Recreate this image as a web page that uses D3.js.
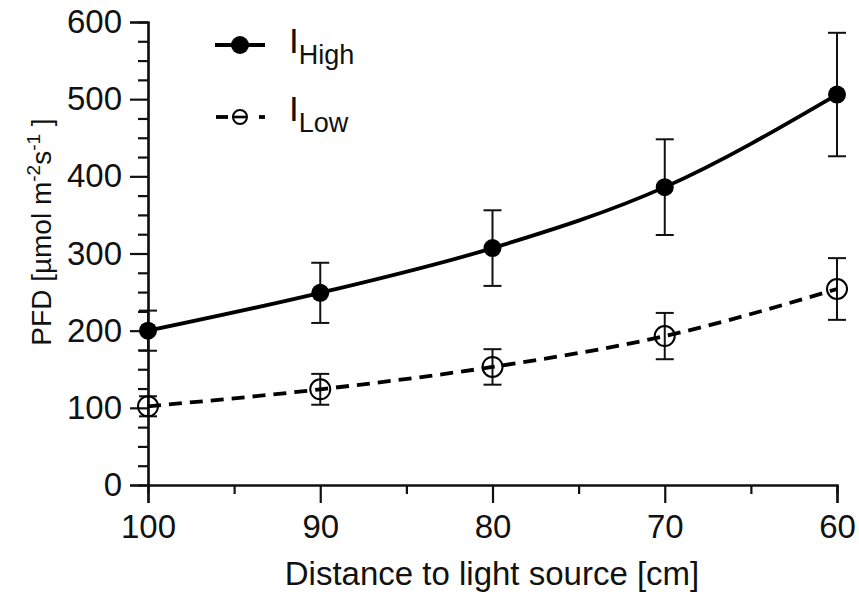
<!DOCTYPE html>
<html>
<head>
<meta charset="utf-8">
<script src="https://cdn.jsdelivr.net/npm/d3@7"></script>
<style>
  body { margin: 0; background: #fff; }
  text { font-family: "Liberation Sans", Arial, sans-serif; fill: #111; }
</style>
</head>
<body>
<svg id="chart" width="859" height="594"></svg>
<script>
// Distance to light source [cm]
const distances = [100, 90, 80, 70, 60];

// PFD means and error (one SD).
const highMean = [200, 249, 307, 386, 506];
const highErr = [26, 39, 49, 62, 80];
const lowMean = [102, 124, 153, 193, 254];
const lowErr = [13, 20, 23, 30, 40];

const xTicks = [100, 90, 80, 70, 60];
const yTicks = [0, 100, 200, 300, 400, 500, 600];

const svg = d3.select('#chart');

const x = d3.scaleLinear().domain([100, 60]).range([148, 837]);
const y = d3.scaleLinear().domain([0, 600]).range([485, 22]);

// Axes: major ticks are labelled, minor ticks are shorter and unlabelled.
const yAxis = d3.axisLeft(y)
  .tickValues(yTicks)
  .tickSize(18)
  .tickPadding(8)
  .tickFormat(d3.format('d'));
const yMinor = d3.axisLeft(y)
  .tickValues(d3.range(25, 600, 25).filter((v) => v % 100 !== 0))
  .tickSize(10)
  .tickFormat('');

const xAxis = d3.axisBottom(x)
  .tickValues(xTicks)
  .tickSize(18)
  .tickPadding(12)
  .tickFormat(d3.format('d'));
const xMinor = d3.axisBottom(x)
  .tickValues([95, 85, 75, 65])
  .tickSize(9)
  .tickFormat('');

function styleAxis(g) {
  g.select('.domain').attr('stroke', '#111').attr('stroke-width', 2.2);
  g.selectAll('.tick line').attr('stroke', '#111').attr('stroke-width', 2.2);
  g.selectAll('.tick text')
    .style('font-size', '33px')
    .attr('fill', '#111');
}

svg.append('g').attr('transform', 'translate(148,0)').call(yMinor).call(styleAxis);
svg.append('g').attr('transform', 'translate(148,0)').call(yAxis).call(styleAxis);
svg.append('g').attr('transform', 'translate(0,485)').call(xMinor).call(styleAxis);
svg.append('g').attr('transform', 'translate(0,485)').call(xAxis).call(styleAxis);

// Axis titles.
svg.append('text')
  .attr('x', 492)
  .attr('y', 585)
  .attr('text-anchor', 'middle')
  .style('font-size', '33px')
  .text('Distance to light source [cm]');

const yTitle = svg.append('text')
  .attr('transform', 'translate(51,232) rotate(-90)')
  .attr('text-anchor', 'middle')
  .style('font-size', '28px');
yTitle.append('tspan').text('PFD [µmol m');
yTitle.append('tspan').attr('dy', -11).style('font-size', '19px').text('-2');
yTitle.append('tspan').attr('dy', 11).text('s');
yTitle.append('tspan').attr('dy', -11).style('font-size', '19px').text('-1');
yTitle.append('tspan').attr('dy', 11).text(' ]');

// Series drawing.
const line = d3.line()
  .x((d) => x(d.dist))
  .y((d) => y(d.mean))
  .curve(d3.curveMonotoneX);

function seriesData(means, errs) {
  return distances.map((dist, i) => ({dist, mean: means[i], err: errs[i]}));
}

function drawSeries(data, opts) {
  const g = svg.append('g');

  // Error bars with caps.
  const eb = g.selectAll('g.err').data(data).enter().append('g');
  eb.append('line')
    .attr('x1', (d) => x(d.dist))
    .attr('x2', (d) => x(d.dist))
    .attr('y1', (d) => y(d.mean + d.err))
    .attr('y2', (d) => y(d.mean - d.err))
    .attr('stroke', '#111')
    .attr('stroke-width', 2);
  [1, -1].forEach((sign) => {
    eb.append('line')
      .attr('x1', (d) => x(d.dist) - 9)
      .attr('x2', (d) => x(d.dist) + 9)
      .attr('y1', (d) => y(d.mean + sign * d.err))
      .attr('y2', (d) => y(d.mean + sign * d.err))
      .attr('stroke', '#111')
      .attr('stroke-width', 2);
  });

  g.append('path')
    .datum(data)
    .attr('d', line)
    .attr('fill', 'none')
    .attr('stroke', '#000')
    .attr('stroke-width', 3.8)
    .attr('stroke-dasharray', opts.dash || null);

  g.selectAll('circle').data(data).enter().append('circle')
    .attr('cx', (d) => x(d.dist))
    .attr('cy', (d) => y(d.mean))
    .attr('r', opts.r)
    .attr('fill', opts.filled ? '#000' : 'none')
    .attr('stroke', '#000')
    .attr('stroke-width', opts.filled ? 0 : 2);
}

drawSeries(seriesData(highMean, highErr), {filled: true, r: 9});
drawSeries(seriesData(lowMean, lowErr), {filled: false, r: 10, dash: '13,8'});

// Legend.
const legend = svg.append('g');
legend.append('line')
  .attr('x1', 215).attr('x2', 265).attr('y1', 45).attr('y2', 45)
  .attr('stroke', '#000').attr('stroke-width', 3.8);
legend.append('circle')
  .attr('cx', 240).attr('cy', 45).attr('r', 9).attr('fill', '#000');
legend.append('line')
  .attr('x1', 216).attr('x2', 228).attr('y1', 117).attr('y2', 117)
  .attr('stroke', '#000').attr('stroke-width', 3.8);
legend.append('line')
  .attr('x1', 232).attr('x2', 247).attr('y1', 117).attr('y2', 117)
  .attr('stroke', '#000').attr('stroke-width', 2.6);
legend.append('circle')
  .attr('cx', 240).attr('cy', 117).attr('r', 7)
  .attr('fill', 'none').attr('stroke', '#000').attr('stroke-width', 2);
legend.append('line')
  .attr('x1', 259).attr('x2', 265).attr('y1', 117).attr('y2', 117)
  .attr('stroke', '#000').attr('stroke-width', 3.8);

[['High', 53], ['Low', 121]].forEach(([sub, yy]) => {
  const t = legend.append('text')
    .attr('x', 289)
    .attr('y', yy)
    .style('font-size', '35px');
  t.append('tspan').text('I');
  t.append('tspan').attr('dy', 11).style('font-size', '27px').text(sub);
});
</script>
</body>
</html>
